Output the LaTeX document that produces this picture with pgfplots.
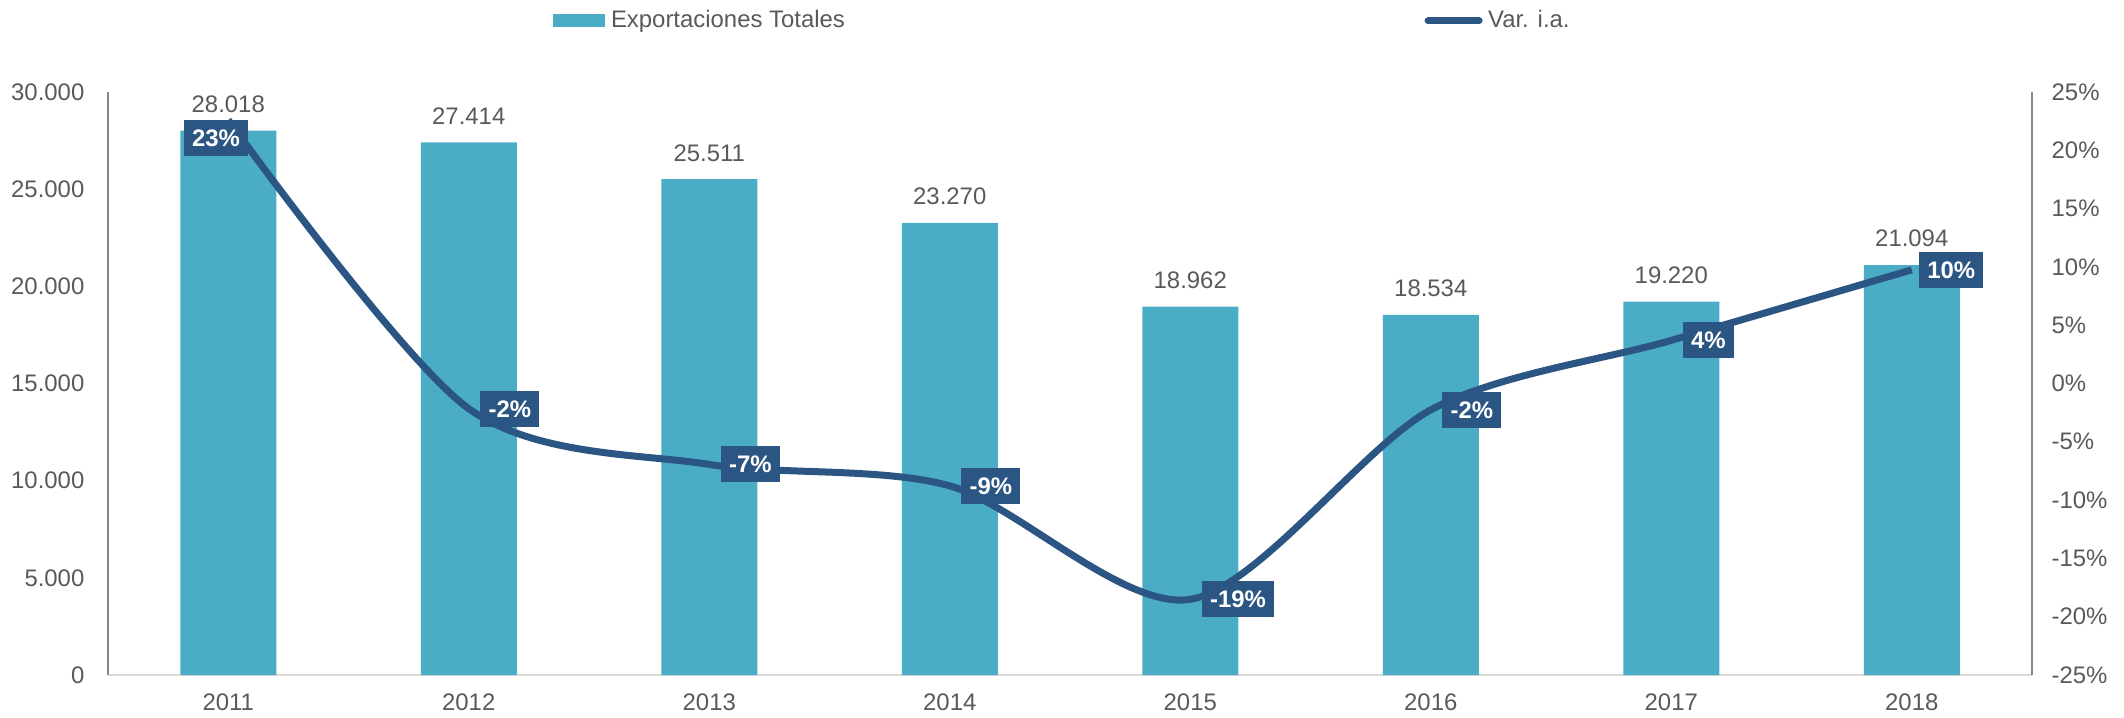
\documentclass[border=0pt]{standalone}
\usepackage{fontspec}
\setmainfont{Liberation Sans}
\usepackage{pgfplots}
\usepackage{pgfplotstable}
\pgfplotsset{compat=1.18}

\definecolor{barc}{RGB}{75,172,198}
\definecolor{linec}{RGB}{43,85,130}
\definecolor{txt}{RGB}{89,89,89}
\definecolor{axgray}{RGB}{134,134,134}
\definecolor{basegray}{RGB}{217,217,217}

\newcommand{\lbl}{\fontsize{7.2}{8.6}\selectfont}

% exportaciones totales
\pgfplotstableread{
x exp
0 28018
1 27414
2 25511
3 23270
4 18962
5 18534
6 19220
7 21094
}\exports

% variacion interanual (%)
\pgfplotstableread{
x var
0 22.6
1 -2.16
2 -6.94
3 -8.78
4 -18.51
5 -2.26
6 3.70
7 9.75
}\variation

\pgfplotsset{
  base/.style={
    scale only axis, width=577.2bp, height=174.9bp,
    xmin=-0.5, xmax=7.5,
    clip=false,
    major tick length=0pt,
    scaled y ticks=false,
    tick label style={font=\lbl, text=txt, inner sep=0pt},
  },
  varlabel/.style={draw=none, mark=none, forget plot,
    point meta=explicit symbolic,
    nodes near coords={\pgfplotspointmeta\%},
    nodes near coords style={anchor=west, fill=linec, text=white,
      font=\lbl\bfseries, inner xsep=2.45bp, inner ysep=2.65bp,
      text height=5.3bp, text depth=0.2bp}},
}

\begin{document}
\begin{tikzpicture}[font=\lbl]
\begin{axis}[base, name=ax,
  ymin=0, ymax=30000,
  axis x line*=bottom, axis y line*=left,
  x axis line style={basegray, line width=0.6bp, -},
  y axis line style={axgray, line width=0.45bp, -},
  xtick={0,...,7}, xticklabels={2011,2012,2013,2014,2015,2016,2017,2018},
  ytick={0,5000,10000,15000,20000,25000,30000},
  yticklabels={0,5.000,10.000,15.000,20.000,25.000,30.000},
  xticklabel style={anchor=north, yshift=-5.4bp},
  yticklabel style={anchor=east, xshift=-6.9bp},
  /pgf/number format/1000 sep={.},
  /pgf/number format/assume math mode=true,
  legend style={at={(0.2313,1.122)}, anchor=west, draw=none, fill=none,
    inner sep=0pt, outer sep=0pt, font=\lbl, text=txt, column sep=1.8bp,
    nodes={inner sep=0pt}},
]
\addplot[ybar, bar width=28.8bp, fill=barc, draw=none,
  nodes near coords,
  nodes near coords style={font=\lbl, text=txt, anchor=south, inner sep=0pt, yshift=5.2bp},
  legend image code/.code={\fill[barc] (0bp,-1.95bp) rectangle (15.6bp,1.95bp);}]
  table[x=x, y=exp] {\exports};
\addlegendentry{Exportaciones Totales}
\end{axis}

\begin{axis}[base,
  ymin=-25, ymax=25,
  axis x line=none, axis y line*=right,
  y axis line style={axgray, line width=0.45bp, -},
  ytick={-25,-20,-15,-10,-5,0,5,10,15,20,25},
  yticklabels={-25\%,-20\%,-15\%,-10\%,-5\%,0\%,5\%,10\%,15\%,20\%,25\%},
  yticklabel style={anchor=west, xshift=5.7bp},
  legend style={at={(0.6843,1.122)}, anchor=west, draw=none, fill=none,
    inner sep=0pt, outer sep=0pt, font=\lbl, text=txt, column sep=1.65bp,
    nodes={inner sep=0pt}},
]
\addplot[linec, line width=2.1bp, smooth, mark=none,
  legend image code/.code={\draw[linec, line width=2.1bp, line cap=round] (0bp,0bp) -- (15.3bp,0bp);}]
  table[x=x, y=var] {\variation};
\addlegendentry{Var. i.a.}
% data labels
\addplot[varlabel, nodes near coords style={xshift=-13.5bp, yshift=-5.4bp}]
  coordinates {(0,22.6)[23]};
\addplot[varlabel, nodes near coords style={xshift=3.3bp}]
  coordinates {(1,-2.16)[-2] (2,-6.94)[-7] (3,-8.78)[-9] (4,-18.51)[-19] (5,-2.26)[-2] (6,3.70)[4]};
\addplot[varlabel, nodes near coords style={xshift=2bp}]
  coordinates {(7,9.75)[10]};
\end{axis}

\pgfresetboundingbox
\path ([shift={(-32.4bp,-12.6bp)}]ax.south west) rectangle ([shift={(27.6bp,27.6bp)}]ax.north east);
\end{tikzpicture}
\end{document}
